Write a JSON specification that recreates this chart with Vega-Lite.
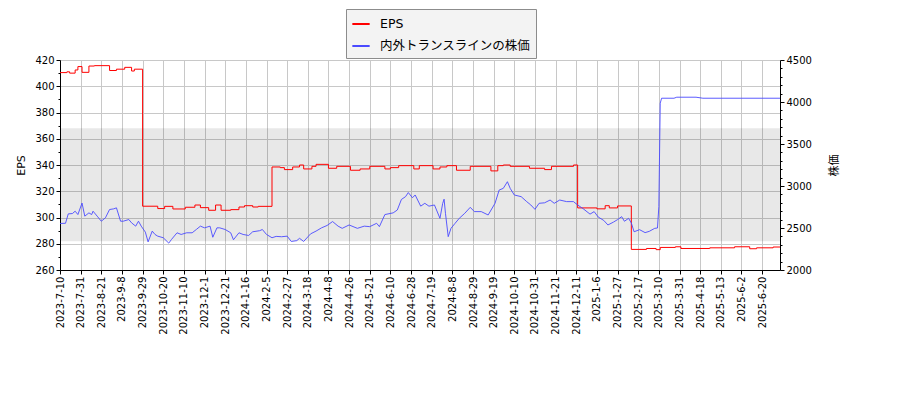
{
  "$schema": "https://vega.github.io/schema/vega-lite/v6.json",
  "width": 720,
  "height": 210,
  "autosize": "none",
  "padding": {"left": 60, "top": 60, "right": 120, "bottom": 130},
  "background": "#ffffff",
  "datasets": {
    "band": [{"t0": 0, "t1": 523, "lo": 282, "hi": 368}],
    "eps": [
      {"t": 0, "eps": 410.4}, {"t": 5, "eps": 411}, {"t": 7, "eps": 410}, {"t": 11, "eps": 412.4},
      {"t": 13, "eps": 415}, {"t": 16, "eps": 410.6}, {"t": 21, "eps": 415.4}, {"t": 25, "eps": 415.7},
      {"t": 36, "eps": 412}, {"t": 41, "eps": 413}, {"t": 47, "eps": 414.4}, {"t": 52, "eps": 411.6},
      {"t": 54, "eps": 413}, {"t": 60, "eps": 308.6}, {"t": 71, "eps": 306.8}, {"t": 76, "eps": 308.5},
      {"t": 82, "eps": 306.5}, {"t": 91, "eps": 307.8}, {"t": 98, "eps": 309.5}, {"t": 102, "eps": 307.5},
      {"t": 108, "eps": 305.5}, {"t": 113, "eps": 309.5}, {"t": 117, "eps": 305.5}, {"t": 124, "eps": 306},
      {"t": 130, "eps": 308}, {"t": 134, "eps": 309}, {"t": 140, "eps": 308}, {"t": 144, "eps": 308.5},
      {"t": 154, "eps": 338.5}, {"t": 160, "eps": 338}, {"t": 163, "eps": 336.5}, {"t": 169, "eps": 338.5},
      {"t": 174, "eps": 340}, {"t": 177, "eps": 337}, {"t": 183, "eps": 339}, {"t": 186, "eps": 340.5},
      {"t": 195, "eps": 337.5}, {"t": 201, "eps": 339}, {"t": 211, "eps": 336}, {"t": 218, "eps": 337},
      {"t": 225, "eps": 339}, {"t": 236, "eps": 337}, {"t": 240, "eps": 338}, {"t": 246, "eps": 339.5},
      {"t": 257, "eps": 337}, {"t": 261, "eps": 339.5}, {"t": 271, "eps": 337}, {"t": 276, "eps": 338.5},
      {"t": 281, "eps": 339.5}, {"t": 288, "eps": 336}, {"t": 298, "eps": 339}, {"t": 313, "eps": 335.5},
      {"t": 318, "eps": 339.5}, {"t": 322, "eps": 340}, {"t": 327, "eps": 339}, {"t": 341, "eps": 337.5},
      {"t": 352, "eps": 336.5}, {"t": 357, "eps": 339}, {"t": 373, "eps": 340}, {"t": 376, "eps": 307.3},
      {"t": 390, "eps": 306.6}, {"t": 396, "eps": 309}, {"t": 399, "eps": 307.3}, {"t": 405, "eps": 308.8},
      {"t": 415, "eps": 275.7}, {"t": 426, "eps": 276.4}, {"t": 433, "eps": 275.5}, {"t": 436, "eps": 277.2},
      {"t": 447, "eps": 277.7}, {"t": 451, "eps": 276.4}, {"t": 472, "eps": 276.9}, {"t": 490, "eps": 277.7},
      {"t": 501, "eps": 276.2}, {"t": 506, "eps": 276.9}, {"t": 518, "eps": 277.5}, {"t": 523, "eps": 277.5}
    ],
    "price": [
      {"t": 0, "price": 2554}, {"t": 4, "price": 2556}, {"t": 6, "price": 2668}, {"t": 9, "price": 2672},
      {"t": 11, "price": 2700}, {"t": 13, "price": 2660}, {"t": 16, "price": 2797}, {"t": 18, "price": 2641},
      {"t": 21, "price": 2680}, {"t": 23, "price": 2660}, {"t": 24, "price": 2700}, {"t": 27, "price": 2641},
      {"t": 30, "price": 2581}, {"t": 33, "price": 2621}, {"t": 36, "price": 2720}, {"t": 39, "price": 2728},
      {"t": 41, "price": 2740}, {"t": 44, "price": 2581}, {"t": 46, "price": 2581}, {"t": 50, "price": 2601},
      {"t": 52, "price": 2561}, {"t": 55, "price": 2522}, {"t": 57, "price": 2581}, {"t": 59, "price": 2522},
      {"t": 62, "price": 2451}, {"t": 64, "price": 2335}, {"t": 67, "price": 2463}, {"t": 69, "price": 2423},
      {"t": 71, "price": 2403}, {"t": 75, "price": 2384}, {"t": 79, "price": 2320}, {"t": 81, "price": 2364},
      {"t": 85, "price": 2443}, {"t": 88, "price": 2423}, {"t": 92, "price": 2443}, {"t": 96, "price": 2443},
      {"t": 99, "price": 2482}, {"t": 102, "price": 2522}, {"t": 105, "price": 2502}, {"t": 109, "price": 2522},
      {"t": 111, "price": 2390}, {"t": 114, "price": 2502}, {"t": 116, "price": 2502}, {"t": 120, "price": 2482},
      {"t": 124, "price": 2443}, {"t": 126, "price": 2360}, {"t": 130, "price": 2443}, {"t": 133, "price": 2423},
      {"t": 137, "price": 2411}, {"t": 140, "price": 2455}, {"t": 145, "price": 2468}, {"t": 147, "price": 2482},
      {"t": 150, "price": 2423}, {"t": 154, "price": 2384}, {"t": 157, "price": 2400}, {"t": 161, "price": 2396},
      {"t": 165, "price": 2403}, {"t": 168, "price": 2340}, {"t": 172, "price": 2350}, {"t": 174, "price": 2377},
      {"t": 177, "price": 2340}, {"t": 182, "price": 2430}, {"t": 186, "price": 2463}, {"t": 190, "price": 2502},
      {"t": 194, "price": 2530}, {"t": 198, "price": 2577}, {"t": 202, "price": 2522}, {"t": 205, "price": 2496},
      {"t": 210, "price": 2536}, {"t": 216, "price": 2496}, {"t": 221, "price": 2522}, {"t": 225, "price": 2516},
      {"t": 230, "price": 2556}, {"t": 232, "price": 2516}, {"t": 236, "price": 2660}, {"t": 242, "price": 2680},
      {"t": 245, "price": 2714}, {"t": 248, "price": 2840}, {"t": 251, "price": 2873}, {"t": 253, "price": 2922},
      {"t": 256, "price": 2860}, {"t": 258, "price": 2893}, {"t": 262, "price": 2760}, {"t": 265, "price": 2794},
      {"t": 268, "price": 2760}, {"t": 272, "price": 2774}, {"t": 276, "price": 2615}, {"t": 278, "price": 2794},
      {"t": 279, "price": 2843}, {"t": 280, "price": 2675}, {"t": 282, "price": 2397}, {"t": 284, "price": 2496},
      {"t": 287, "price": 2556}, {"t": 290, "price": 2615}, {"t": 294, "price": 2675}, {"t": 298, "price": 2746},
      {"t": 301, "price": 2695}, {"t": 306, "price": 2695}, {"t": 311, "price": 2655}, {"t": 316, "price": 2794},
      {"t": 319, "price": 2952}, {"t": 322, "price": 2972}, {"t": 325, "price": 3051}, {"t": 327, "price": 2972},
      {"t": 330, "price": 2893}, {"t": 335, "price": 2873}, {"t": 339, "price": 2814}, {"t": 342, "price": 2774},
      {"t": 345, "price": 2722}, {"t": 348, "price": 2794}, {"t": 352, "price": 2800}, {"t": 356, "price": 2833},
      {"t": 359, "price": 2794}, {"t": 363, "price": 2833}, {"t": 368, "price": 2814}, {"t": 373, "price": 2814},
      {"t": 376, "price": 2774}, {"t": 380, "price": 2730}, {"t": 385, "price": 2665}, {"t": 388, "price": 2695},
      {"t": 391, "price": 2630}, {"t": 395, "price": 2590}, {"t": 398, "price": 2536}, {"t": 402, "price": 2570},
      {"t": 405, "price": 2600}, {"t": 408, "price": 2635}, {"t": 410, "price": 2580}, {"t": 413, "price": 2615},
      {"t": 415, "price": 2560}, {"t": 417, "price": 2455}, {"t": 421, "price": 2480}, {"t": 425, "price": 2445},
      {"t": 428, "price": 2460}, {"t": 432, "price": 2496}, {"t": 434, "price": 2500}, {"t": 435, "price": 2754},
      {"t": 436, "price": 3986}, {"t": 437, "price": 4045}, {"t": 446, "price": 4045}, {"t": 448, "price": 4057},
      {"t": 462, "price": 4057}, {"t": 467, "price": 4045}, {"t": 523, "price": 4045}
    ]
  },
  "encoding": {
    "x": {
      "field": "t",
      "type": "quantitative",
      "scale": {"domain": [0, 523], "nice": false, "zero": false},
      "axis": {
        "title": null,
        "values": [0, 15, 30, 45, 60, 75, 90, 105, 120, 135, 150, 165, 180, 195, 210, 225, 240, 255, 270, 285, 300, 315, 330, 345, 360, 375, 390, 405, 420, 435, 450, 465, 480, 495, 510],
        "labelExpr": "['2023-7-10','2023-7-31','2023-8-21','2023-9-8','2023-9-29','2023-10-20','2023-11-10','2023-12-1','2023-12-21','2024-1-16','2024-2-5','2024-2-27','2024-3-18','2024-4-8','2024-4-26','2024-5-21','2024-6-10','2024-6-28','2024-7-19','2024-8-8','2024-8-29','2024-9-19','2024-10-10','2024-10-31','2024-11-21','2024-12-11','2025-1-6','2025-1-27','2025-2-17','2025-3-10','2025-3-31','2025-4-18','2025-5-13','2025-6-2','2025-6-20'][round(datum.value / 15)]",
        "labelAngle": 270,
        "labelAlign": "right",
        "labelBaseline": "middle",
        "labelOverlap": false,
        "labelBound": false,
        "labelFlush": false,
        "grid": true
      }
    }
  },
  "layer": [
    {
      "encoding": {
        "y": {
          "type": "quantitative",
          "scale": {"domain": [260, 420], "nice": false, "zero": false},
          "axis": {
            "title": "EPS",
            "orient": "left",
            "values": [260, 270, 280, 290, 300, 310, 320, 330, 340, 350, 360, 370, 380, 390, 400, 410, 420],
            "labelExpr": "datum.value % 20 == 0 ? datum.label : ''",
            "tickSize": {"condition": {"test": "datum.value % 20 == 0", "value": 4}, "value": 2},
            "gridOpacity": {"condition": {"test": "datum.value % 20 == 0", "value": 1}, "value": 0},
            "titlePadding": 8
          }
        }
      },
      "layer": [
        {
          "data": {"name": "band"},
          "mark": {"type": "rect", "fill": "#000000", "fillOpacity": 0.09},
          "encoding": {
            "x": {"field": "t0", "type": "quantitative"},
            "x2": {"field": "t1"},
            "y": {"field": "lo", "type": "quantitative"},
            "y2": {"field": "hi"}
          }
        },
        {
          "data": {"name": "eps"},
          "mark": {"type": "line", "interpolate": "step-after", "strokeWidth": 1},
          "encoding": {
            "y": {"field": "eps", "type": "quantitative"},
            "color": {"datum": "EPS", "type": "nominal"}
          }
        }
      ]
    },
    {
      "data": {"name": "price"},
      "mark": {"type": "line", "strokeWidth": 0.9},
      "encoding": {
        "y": {
          "field": "price",
          "type": "quantitative",
          "scale": {"domain": [2000, 4500], "nice": false, "zero": false},
          "axis": {
            "title": "株価",
            "orient": "right",
            "grid": false,
            "values": [2000, 2100, 2200, 2300, 2400, 2500, 2600, 2700, 2800, 2900, 3000, 3100, 3200, 3300, 3400, 3500, 3600, 3700, 3800, 3900, 4000, 4100, 4200, 4300, 4400, 4500],
            "labelExpr": "datum.value % 500 == 0 ? datum.label : ''",
            "format": "d",
            "tickSize": {"condition": {"test": "datum.value % 500 == 0", "value": 4}, "value": 2},
            "titleAngle": 270,
            "titlePadding": 28
          }
        },
        "color": {"datum": "内外トランスラインの株価", "type": "nominal"}
      }
    }
  ],
  "resolve": {"scale": {"y": "independent"}},
  "config": {
    "view": {"stroke": null},
    "font": "DejaVu Sans, Noto Sans CJK JP",
    "axis": {
      "labelFont": "DejaVu Sans",
      "labelFontSize": 10,
      "labelColor": "#000000",
      "titleFont": "DejaVu Sans, Noto Sans CJK JP",
      "titleFontSize": 11,
      "titleFontWeight": "normal",
      "titleColor": "#000000",
      "domainColor": "#000000",
      "tickColor": "#000000",
      "tickSize": 4,
      "labelPadding": 2,
      "gridColor": "#c8c8c8",
      "gridWidth": 1
    },
    "scale": {"zero": false},
    "range": {"category": ["#ff0000", "#4a4aff"]},
    "legend": {
      "orient": "none",
      "legendX": 286,
      "legendY": -51,
      "direction": "vertical",
      "title": null,
      "fillColor": "#f3f3f3",
      "strokeColor": "#8c8c8c",
      "padding": 5,
      "rowPadding": 5,
      "symbolType": "stroke",
      "symbolSize": 300,
      "symbolStrokeWidth": 2,
      "labelOffset": 9,
      "labelFont": "DejaVu Sans, Noto Sans CJK JP",
      "labelFontSize": 12.5,
      "labelColor": "#000000",
      "labelLimit": 300
    }
  }
}
